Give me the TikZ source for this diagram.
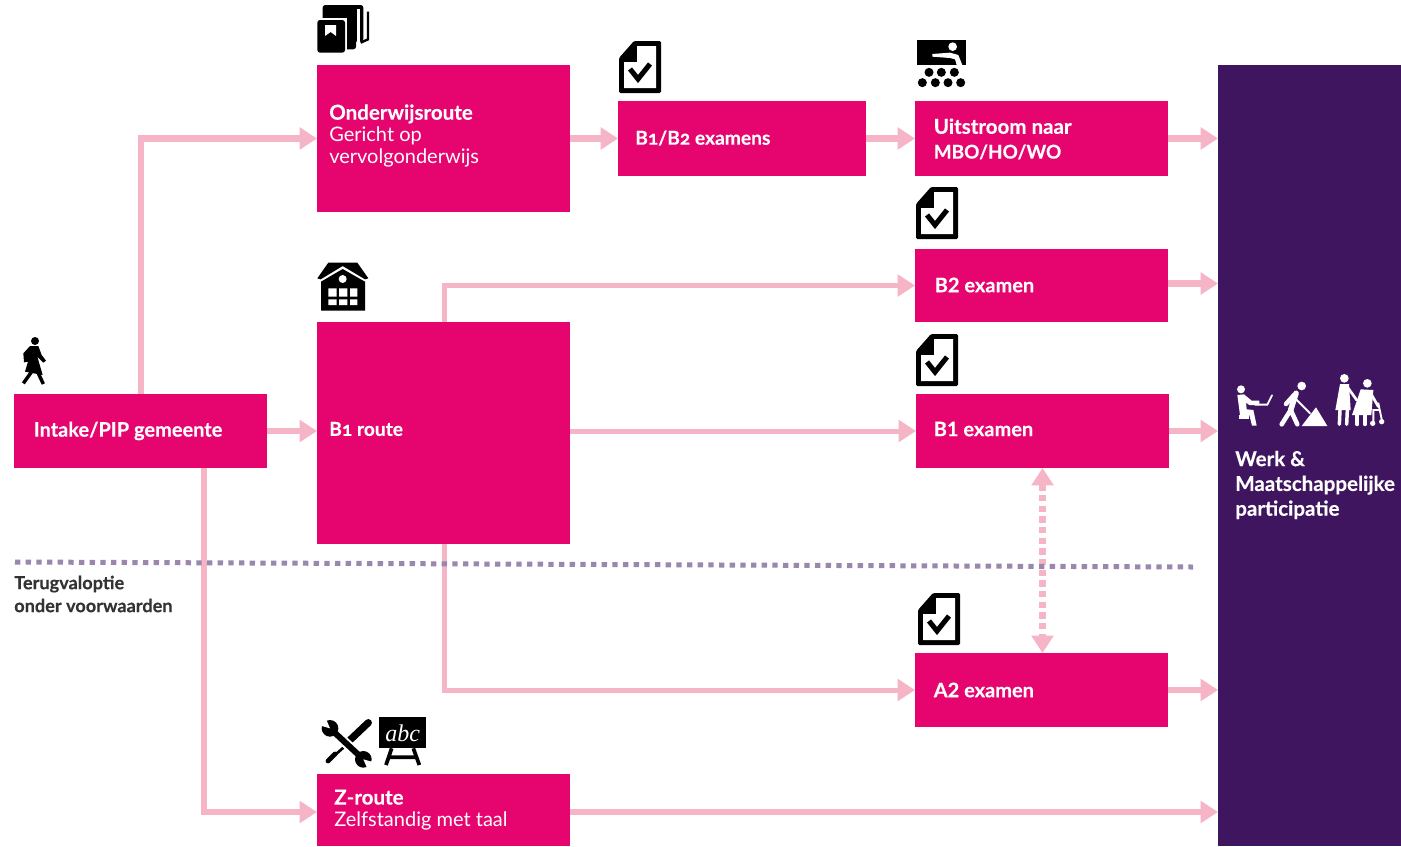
\documentclass[tikz,border=0pt]{standalone}
\usepackage{fontspec}
\setmainfont{Lato}[BoldFeatures={FakeBold=0.25}]
\newfontfamily\oldnum[Numbers=OldStyle,BoldFeatures={FakeBold=0.25}]{Lato}
\newfontfamily\abcfont{Liberation Serif}
\usetikzlibrary{arrows.meta}
\definecolor{rosered}{HTML}{E6056F}
\definecolor{deeppurple}{HTML}{3F1560}
\definecolor{palepink}{HTML}{F5B5C6}
\definecolor{dotpurple}{HTML}{9A86AE}
\definecolor{darktext}{HTML}{333333}
\tikzset{
  x=.75pt,y=-.75pt,
  procbox/.style={fill=rosered,draw=none,anchor=north west,inner sep=0pt,outer sep=0pt},
  werkbox/.style={fill=deeppurple,draw=none,anchor=north west,inner sep=0pt,outer sep=0pt},
  lbl/.style={anchor=west,inner sep=0pt,text=white,align=left,font=\fontsize{15}{16.6}\selectfont},
  lblwide/.style={lbl,font=\fontsize{15.4}{16.6}\selectfont},
  lblnum/.style={lbl,font=\fontsize{14.4}{16.6}\selectfont},
  note/.style={anchor=west,inner sep=0pt,text=darktext,align=left,font=\fontsize{13.6}{17.2}\selectfont\bfseries},
  flow/.style={draw=palepink,line width=4.9pt,-{Triangle[length=13pt,width=16pt]}},
  flowthin/.style={flow,line width=3.75pt},
  exchange/.style={draw=palepink,line width=5pt,dash pattern=on 4.7pt off 3.3pt,{Triangle[length=13pt,width=16pt]}-{Triangle[length=13pt,width=16pt]}},
  divider/.style={draw=dotpurple,line width=3.75pt,dash pattern=on 4pt off 4pt},
  doccheck/.pic={
    \fill[black,rounded corners=1pt] (15,0)--(42,0)--(42,52)--(0,52)--(0,17)--cycle;
    \fill[white] (18,5)--(37,5)--(37,47)--(5,47)--(5,21)--(18,21)--cycle;
    \draw[black,line width=3.8pt,line join=miter] (11,28)--(19,38)--(31,23);
  },
  zoomunits/.style={x=.25pt,y=-.25pt},
}
\begin{document}
\begin{tikzpicture}
\useasboundingbox (0,0) rectangle (1401,846);
\clip (0,0) rectangle (1401,846);
% boxes
\node[procbox,minimum width=189.75pt,minimum height=55.5pt] (intake) at (14,394) {};
\node[procbox,minimum width=189.75pt,minimum height=110.25pt] (onderwijs) at (317,65) {};
\node[procbox,minimum width=186pt,minimum height=56.25pt] (bexam) at (618,101) {};
\node[procbox,minimum width=189.75pt,minimum height=56.25pt] (uitstroom) at (915,101) {};
\node[procbox,minimum width=189.75pt,minimum height=54.75pt] (btwo) at (915,249) {};
\node[procbox,minimum width=189.75pt,minimum height=166.5pt] (bone) at (317,322) {};
\node[procbox,minimum width=189.75pt,minimum height=55.5pt] (boneex) at (916,394) {};
\node[procbox,minimum width=189.75pt,minimum height=55.5pt] (atwo) at (915,653) {};
\node[procbox,minimum width=189.75pt,minimum height=54pt] (zroute) at (317,774) {};
\node[werkbox,minimum width=137.25pt,minimum height=585.75pt] (werk) at (1218,65) {};
% labels
\node[lbl] (lintake) at (33.5,431) {\bfseries Intake/PIP gemeente};
\node[lbl] (londer) at (329,136) {\textbf{\fontsize{15.4}{16.6}\selectfont Onderwijsroute}\\Gericht op\\vervolgonderwijs};
\node[lblnum] (lbexam) at (635,138) {\bfseries\oldnum B1/B2 examens};
\node[lblwide] (luit) at (933.5,139) {\bfseries Uitstroom naar\\[2pt]\bfseries\fontsize{14.2}{16.6}\selectfont MBO/HO/WO};
\node[lbl] (lbtwo) at (934.5,285) {\bfseries B2 examen};
\node[lblnum] (lbone) at (329,429) {\bfseries\oldnum B1 route};
\node[lbl] (lboneex) at (933.5,429) {\bfseries B1 examen};
\node[lbl] (latwo) at (933.5,690) {\bfseries A2 examen};
\node[lbl] (lz) at (334,810) {\textbf{\fontsize{15.4}{16.6}\selectfont Z-route}\\Zelfstandig met taal};
\node[lblwide] (lwerk) at (1235,485) {\bfseries Werk \&\\[2pt]\bfseries Maatschappelijke\\[2pt]\bfseries participatie};
\node[note] (lterug) at (14,594) {Terugvaloptie\\onder voorwaarden};
% connectors
\coordinate (upstart) at (141,394);
\coordinate (downstart) at (204,468);
\coordinate (btop) at (444,322);
\coordinate (bbottom) at (444,544);
\coordinate (dotl) at (15,562);
\coordinate (dotr) at (1193,567);
\draw[flow] (upstart) |- (onderwijs.west);
\draw[flow] (intake.east) -- (intake.east -| bone.west);
\draw[flow] (onderwijs.east) -- (bexam.west);
\draw[flow] (bexam.east) -- (uitstroom.west);
\draw[flow] (uitstroom.east) -- (uitstroom.east -| werk.west);
\draw[flowthin] (btop) |- (btwo.west);
\draw[flow] ([yshift=1.5pt]btwo.east) -- ([yshift=1.5pt]btwo.east -| werk.west);
\draw[flowthin] (boneex.west -| bone.east) -- (boneex.west);
\draw[flow] (boneex.east) -- (boneex.east -| werk.west);
\draw[flowthin] (bbottom) |- (atwo.west);
\draw[flow] (atwo.east) -- (atwo.east -| werk.west);
\draw[flow] (downstart) |- ([yshift=-1.5pt]zroute.west);
\draw[flow] ([yshift=-1.5pt]zroute.east) -- ([yshift=-1.5pt]zroute.east -| werk.west);
\draw[exchange] (boneex.south) -- (boneex.south |- atwo.north);
\draw[divider] (dotl) -- (dotr);
% document icons
\pic at (619,41) {doccheck};
\pic at (916,187) {doccheck};
\pic at (916,334) {doccheck};
\pic at (918,593) {doccheck};
% walking person
\begin{scope}[shift={(0,320)},zoomunits]
  \fill (105,63) circle (12);
  \fill (90,78)--(115,78)--(125,105)--(138,122)--(130,128)--(112,110)--(128,165)--(75,155)--(84,125)--(72,127)--(70,100)--cycle;
  \draw[line width=2.6pt] (95,155)--(70,190) (115,160)--(130,192);
\end{scope}
% books
\begin{scope}[shift={(300,0)},zoomunits]
  \draw[line width=1.8pt] (204,35)--(204,118)--(182,128);
  \fill[rounded corners=2pt] (68,15) rectangle (190,125);
  \fill[white] (170,28) rectangle (180,130);
  \fill[rounded corners=2pt] (75,25) rectangle (168,148);
  \fill[white] (46,54) rectangle (142,165);
  \fill[rounded corners=2pt] (52,60) rectangle (135,158);
  \fill[white] (75,75)--(108,75)--(108,108)--(92,96)--(75,108)--cycle;
\end{scope}
% house
\begin{scope}[shift={(300,255)},zoomunits]
  \fill (52,70)--(85,23)--(172,23)--(205,70)--(195,73)--(128,33)--(62,73)--cycle;
  \fill (63,167)--(63,80)--(128,42)--(195,80)--(195,167)--cycle;
  \fill[white] (128,72) circle (12);
  \fill[white] (85,100) rectangle (110,125) (117,100) rectangle (142,125) (150,100) rectangle (172,125);
  \fill[white] (85,133) rectangle (110,150) (117,133) rectangle (142,150) (150,133) rectangle (172,150);
\end{scope}
% teacher
\begin{scope}[shift={(900,30)},zoomunits]
  \fill (50,30) rectangle (198,105);
  \fill[white] (158,50) circle (13);
  \fill[white] (97,72)--(150,68)--(175,75)--(187,105)--(170,105)--(165,88)--(150,84)--(97,80)--cycle;
  \foreach \cx in {87,124,163} \fill (\cx,127) circle (13.5);
  \foreach \cx in {67,106,144,182} \fill (\cx,158) circle (13.5);
\end{scope}
% tools and board
\begin{scope}[shift={(300,700)},zoomunits]
  \draw[line width=5.4pt,line cap=round] (205,68)--(150,120);
  \draw[line width=2pt] (130,143)--(105,165);
  \draw[line width=3.6pt,line cap=round] (105,162)--(84,183);
  \draw[white,line width=7.4pt] (100,95)--(180,168);
  \draw[line width=4.5pt] (90,85)--(190,178);
  \fill (90,85) circle (25) (190,178) circle (25);
  \fill[white] (90,85)--(75,50)--(55,50)--(55,75)--cycle;
  \fill[white] (190,178)--(205,213)--(225,213)--(225,188)--cycle;
  \fill (238,50) rectangle (378,145);
  \draw[line width=2.8pt] (275,145)--(258,195) (340,145)--(358,195) (265,172)--(350,172);
  \node[inner sep=0pt,text=white,font=\abcfont\itshape\fontsize{18}{18}\selectfont] (abc) at (308,100) {abc};
\end{scope}
% participation figures
\begin{scope}[shift={(1210,360)},zoomunits,white,line cap=round]
  \fill (93,88) circle (12);
  \fill (82,105)--(102,103)--(125,122)--(148,122)--(148,135)--(118,135)--(108,128)--(110,148)--(130,150)--(140,197)--(126,197)--(118,165)--(90,165)--cycle;
  \fill (86,165) rectangle (118,176);
  \draw[line width=1.4pt] (135,134)--(172,134)--(186,106);
  \fill (275,78) circle (13);
  \draw[line width=4.2pt] (258,100)--(242,150);
  \draw[line width=3.4pt] (242,150)--(215,193) (242,150)--(262,193) (252,105)--(228,132);
  \draw[line width=1.4pt] (258,118)--(300,160);
  \fill (275,198)--(318,142)--(352,198)--cycle;
  \fill (403,55) circle (13);
  \fill (390,72)--(417,72)--(422,150)--(376,150)--cycle;
  \draw[line width=2.6pt] (390,150)--(388,193) (412,150)--(410,193);
  \draw[line width=2pt] (415,85)--(440,120);
  \fill (472,70) circle (13);
  \fill (452,88)--(490,90)--(484,165)--(426,165)--cycle;
  \draw[line width=2.8pt] (442,165)--(442,193) (465,165)--(465,193);
  \draw[line width=2pt] (485,105)--(505,140);
  \draw[line width=1.4pt] (505,130)--(515,178) (505,150)--(490,150)--(490,185);
  \fill (488,190) circle (8) (515,185) circle (8);
\end{scope}
\end{tikzpicture}
\end{document}
